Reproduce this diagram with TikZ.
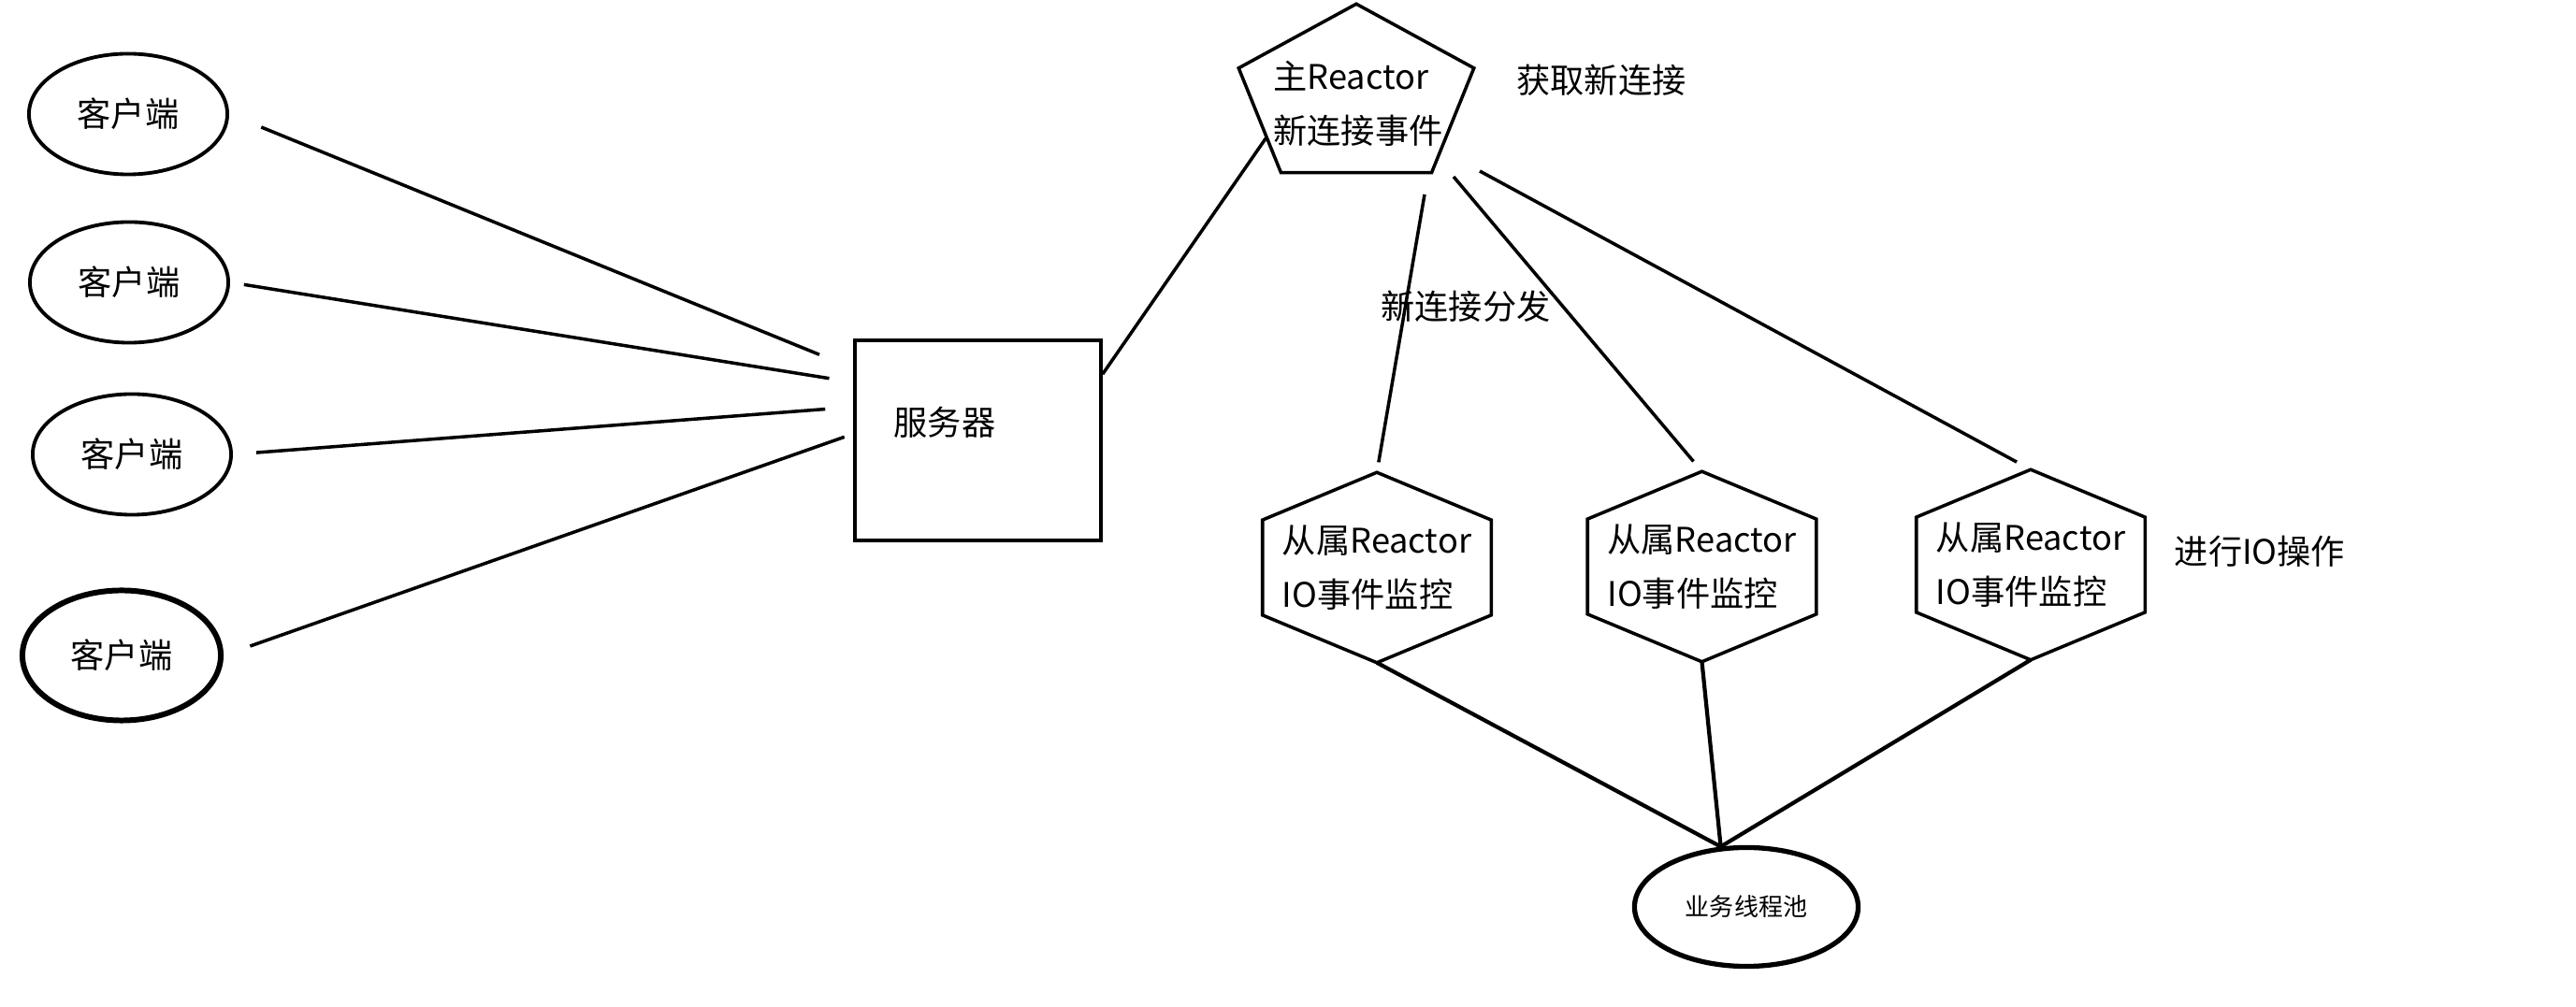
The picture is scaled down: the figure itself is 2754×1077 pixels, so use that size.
\documentclass[tikz,border=0pt]{standalone}
\usepackage{fontspec}
\setmainfont{Noto Sans CJK SC}
\usetikzlibrary{shapes.geometric,calc}

\begin{document}
\begin{tikzpicture}[x=0.01cm, y=-0.01cm,
    font=\fontsize{10.3}{16.5}\selectfont,
    client/.style={ellipse, draw, line width=1.1pt, minimum width=2.12cm, minimum height=1.29cm, inner sep=0pt},
    link/.style={line width=1pt},
    hexbox/.style={minimum width=2.43cm, minimum height=2.02cm, align=left, inner sep=0pt},
    tag/.style={inner sep=0pt}]
\useasboundingbox (0,0) rectangle (2754,1077);

% clients and server
\node[client] (c1) at (137,122) {客户端};
\node[client] (c2) at (138,302) {客户端};
\node[client] (c3) at (141,486) {客户端};
\node[client, line width=1.7pt, minimum height=1.39cm] (c4) at (130,701) {客户端};
\node[draw, line width=1pt, minimum width=2.63cm, minimum height=2.14cm] (srv) at (1045.5,471) {};
\node[tag] (srvtxt) at (1010,452) {服务器};

\draw[link, shorten <=0.37cm, shorten >=0.39cm] (c1.east) -- (srv.150);
\draw[link, shorten <=0.15cm, shorten >=0.26cm] (c2.east) -- (srv.155.7);
\draw[link, shorten <=0.25cm, shorten >=0.30cm] (c3.east) -- (srv.165);
\draw[link, shorten <=0.30cm, shorten >=0.10cm] (c4.east) -- (srv.177);

% main reactor
\node[minimum width=2.5cm, minimum height=1.79cm, inner sep=0pt] (main) at (1450,94.5) {};
\draw[link] (main.north) -- ($(main.north west)!.38!(main.south west)$) coordinate (mL)
    -- ($(main.south west)!.18!(main.south east)$) coordinate (mBL)
    -- ($(main.south west)!.82!(main.south east)$) coordinate (mBR)
    -- ($(main.north east)!.38!(main.south east)$) coordinate (mR) -- cycle;
\node[tag, align=left] (maintxt) at (1452,111) {主Reactor\\新连接事件};
\draw[link] (srv.28) -- ($(mL)!.66!(mBL)$);

\node[tag] (getnew) at (1712,86) {获取新连接};
\node[tag] (dispatch) at (1567,328) {新连接分发};

% sub reactors
\node[hexbox] (sub1) at (1472,607) {从属Reactor\\IO事件监控};
\node[hexbox] (sub2) at (1819.5,606) {从属Reactor\\IO事件监控};
\node[hexbox] (sub3) at (2171,604) {从属Reactor\\IO事件监控};
\foreach \s in {sub1,sub2,sub3}
    \draw[link] (\s.north) -- ($(\s.north west)!.25!(\s.south west)$)
        -- ($(\s.north west)!.75!(\s.south west)$) -- (\s.south)
        -- ($(\s.north east)!.75!(\s.south east)$)
        -- ($(\s.north east)!.25!(\s.south east)$) -- cycle;
\node[tag] (doio) at (2416,590) {进行IO操作};

\coordinate (d1) at (1523,208);
\coordinate (d2) at (1554,189);
\coordinate (d3) at (1582,183);
\draw[link, shorten >=0.11cm] (d1) -- (sub1.north);
\draw[link, shorten >=0.14cm] (d2) -- (sub2.north);
\draw[link, shorten >=0.17cm] (d3) -- (sub3.north);

% thread pool
\node[ellipse, draw, line width=1.5pt, minimum width=2.39cm, minimum height=1.27cm,
    font=\fontsize{7.4}{9}\selectfont] (pool) at (1867,970) {业务线程池};
\foreach \s in {sub1,sub2,sub3}
    \draw[line width=1.2pt] (\s.south) -- (pool.113);
\end{tikzpicture}
\end{document}
